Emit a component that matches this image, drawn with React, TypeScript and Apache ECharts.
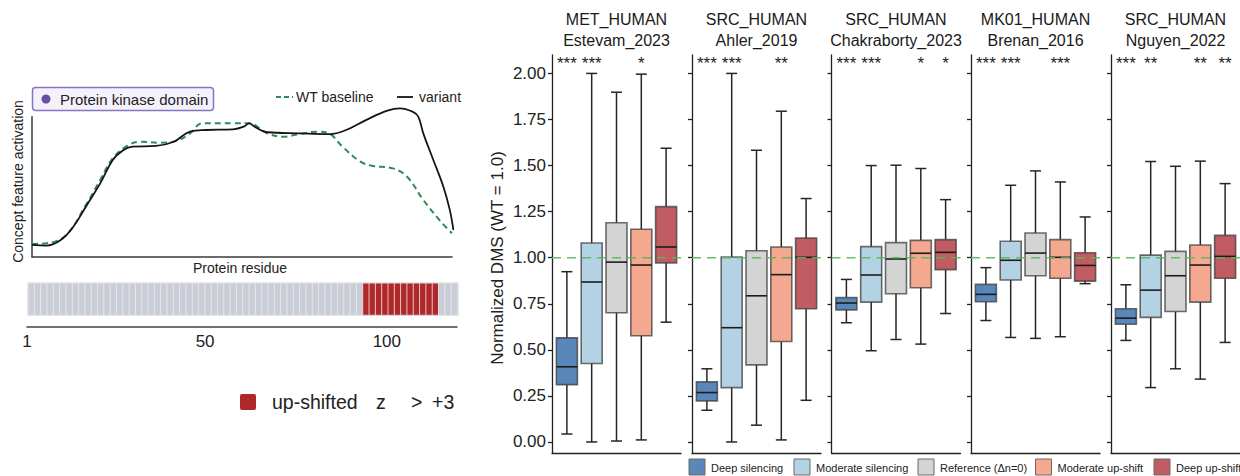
import { useEffect, useRef } from "react";
import * as echarts from "echarts";

const FONT = "'Liberation Sans', Arial, Helvetica, sans-serif";

// ---------- Left panel: concept feature activation along residues ----------
const wtBaseline: [number, number][] = [
  [1, 0.091], [5, 0.096], [10.5, 0.155], [16, 0.369], [20, 0.548], [23.5, 0.703],
  [27.5, 0.791], [31, 0.821], [36.5, 0.814], [41.5, 0.829], [45, 0.881], [48.5, 0.953],
  [57, 0.953], [61.5, 0.953], [66.5, 0.881], [71, 0.857], [75.5, 0.876], [80.5, 0.893],
  [84, 0.876], [87.5, 0.786], [92.5, 0.679], [96, 0.648], [101.5, 0.631], [105.5, 0.571],
  [110, 0.405], [114.5, 0.262], [118, 0.167],
];
const variantTrace: [number, number][] = [
  [1, 0.084], [5, 0.079], [9, 0.119], [12.5, 0.214], [16, 0.357], [20, 0.524],
  [23.5, 0.691], [26.5, 0.762], [29, 0.786], [35.5, 0.791], [40.5, 0.821], [45, 0.893],
  [49.5, 0.905], [57, 0.91], [60, 0.929], [61.5, 0.953], [63, 0.929], [66.5, 0.889],
  [75.5, 0.881], [84, 0.876], [88.5, 0.905], [94, 0.976], [100, 1.043], [103.5, 1.06],
  [107, 1.036], [108.6, 1.0], [110, 0.881], [112.8, 0.691], [115.6, 0.5], [117.4, 0.333],
  [118.4, 0.19],
];
const stripCellCount = 68;
const upShiftedCells = [53, 54, 55, 56, 57, 58, 59, 60, 61, 62, 63, 64];
const residueTicks = [1, 50, 100];

// ---------- Right panel: normalized DMS box plots ----------
const proteinNames = ["MET_HUMAN", "SRC_HUMAN", "SRC_HUMAN", "MK01_HUMAN", "SRC_HUMAN"];
const studyNames = ["Estevam_2023", "Ahler_2019", "Chakraborty_2023", "Brenan_2016", "Nguyen_2022"];
const classNames = ["Deep silencing", "Moderate silencing", "Reference (\u0394n=0)", "Moderate up-shift", "Deep up-shift"];
const dmsTicks = [0, 0.25, 0.5, 0.75, 1.0, 1.25, 1.5, 1.75, 2.0];
const wtLevel = 1.0;

// [lower whisker, Q1, median, Q3, upper whisker] per class
const metEstevam = [
  [0.043, 0.311, 0.408, 0.565, 0.924],
  [0.0, 0.426, 0.868, 1.08, 2.0],
  [0.005, 0.701, 0.976, 1.19, 1.898],
  [0.011, 0.576, 0.96, 1.154, 1.996],
  [0.65, 0.971, 1.058, 1.277, 1.594],
];
const srcAhler = [
  [0.172, 0.223, 0.268, 0.326, 0.397],
  [0.0, 0.295, 0.62, 1.004, 2.0],
  [0.091, 0.418, 0.793, 1.038, 1.583],
  [0.011, 0.545, 0.908, 1.058, 1.795],
  [0.226, 0.723, 1.002, 1.107, 1.321],
];
const srcChakraborty = [
  [0.647, 0.717, 0.754, 0.783, 0.882],
  [0.495, 0.759, 0.906, 1.06, 1.5],
  [0.556, 0.804, 0.993, 1.082, 1.502],
  [0.531, 0.837, 1.024, 1.094, 1.484],
  [0.697, 0.935, 1.029, 1.098, 1.315],
];
const mk01Brenan = [
  [0.659, 0.761, 0.801, 0.855, 0.946],
  [0.567, 0.879, 0.986, 1.089, 1.393],
  [0.562, 0.902, 1.025, 1.134, 1.471],
  [0.571, 0.888, 1.002, 1.098, 1.411],
  [0.859, 0.873, 0.958, 1.027, 1.221],
];
const srcNguyen = [
  [0.551, 0.639, 0.672, 0.723, 0.853],
  [0.295, 0.676, 0.824, 1.014, 1.522],
  [0.397, 0.708, 0.902, 1.034, 1.496],
  [0.341, 0.759, 0.96, 1.069, 1.524],
  [0.54, 0.888, 1.007, 1.121, 1.402],
];
const boxStats = [metEstevam, srcAhler, srcChakraborty, mk01Brenan, srcNguyen];
const sigMarks = [
  ["***", "***", "", "*", ""],
  ["***", "***", "", "**", ""],
  ["***", "***", "", "*", "*"],
  ["***", "***", "", "***", ""],
  ["***", "**", "", "**", "**"],
];

// ---------- styling / layout ----------
const classColors = ["#5a87b9", "#b3d3e5", "#d4d4d4", "#f3a88f", "#c15c62"];
const PANEL_LEFT = [552, 692, 831.5, 971, 1111];
const PANEL_W = 129;
const PANEL_TOP = 55;
const PANEL_H = 398;
const Y_MIN = -0.06;
const Y_MAX = 2.1;
const STAR_LEVEL = 2.055;
const LEGEND_X = [689, 794, 918, 1035.5, 1154];

function buildOption(): any {
  const grid: any[] = [
    { left: 32, top: 116.7, width: 420, height: 140 },
    { left: 28.3, top: 283.3, width: 429.4, height: 31.7, show: true, borderColor: "#d6d9df", borderWidth: 2, backgroundColor: "transparent" },
    { left: 27, top: 300, width: 430, height: 26.7 },
  ];
  const xAxis: any[] = [
    {
      gridIndex: 0, type: "value", min: 1, max: 118,
      axisLine: { show: true, onZero: false, lineStyle: { color: "#3a3a3a", width: 1.5 } },
      axisTick: { show: false }, axisLabel: { show: false }, splitLine: { show: false },
    },
    {
      gridIndex: 1, type: "category",
      data: Array.from({ length: stripCellCount }, (_, i) => String(i + 1)),
      show: false,
    },
    {
      gridIndex: 2, type: "value", min: 1, max: 119.3,
      axisLine: { show: true, onZero: false, lineStyle: { color: "#3d4350", width: 1.5 } },
      axisTick: { show: false },
      axisLabel: { show: true, customValues: residueTicks, fontSize: 17, fontFamily: FONT, color: "#222", margin: 6 },
      splitLine: { show: false },
    },
  ];
  const yAxis: any[] = [
    {
      gridIndex: 0, type: "value", min: 0, max: 1,
      axisLine: { show: true, onZero: false, lineStyle: { color: "#3a3a3a", width: 1.5 } },
      axisTick: { show: false }, axisLabel: { show: false }, splitLine: { show: false },
    },
    { gridIndex: 1, type: "category", data: ["strip"], show: false },
    { gridIndex: 2, type: "value", min: 0, max: 1, show: false },
  ];
  const series: any[] = [
    {
      type: "line", xAxisIndex: 0, yAxisIndex: 0, data: wtBaseline, smooth: 0.4, symbol: "none",
      clip: false, lineStyle: { color: "#2e8b57", width: 2, type: [6, 4] }, z: 3, silent: true,
    },
    {
      type: "line", xAxisIndex: 0, yAxisIndex: 0, data: variantTrace, smooth: 0.4, symbol: "none",
      clip: false, lineStyle: { color: "#151515", width: 1.8 }, z: 4, silent: true,
    },
    {
      type: "heatmap", xAxisIndex: 1, yAxisIndex: 1,
      data: Array.from({ length: stripCellCount }, (_, i) => [i, 0, upShiftedCells.includes(i) ? 1 : 0]),
      itemStyle: { borderColor: "rgba(236,238,242,0.75)", borderWidth: 1 },
      silent: true,
    },
  ];

  const graphic: any[] = [];

  for (let p = 0; p < boxStats.length; p++) {
    const gi = 3 + p;
    grid.push({ left: PANEL_LEFT[p], top: PANEL_TOP, width: PANEL_W, height: PANEL_H });
    xAxis.push({
      gridIndex: gi, type: "value", min: 0.4, max: 5.6,
      axisLine: { show: true, onZero: false, lineStyle: { color: "#222", width: 1.3 } },
      axisTick: { show: false }, axisLabel: { show: false }, splitLine: { show: false },
    });
    yAxis.push({
      gridIndex: gi, type: "value", min: Y_MIN, max: Y_MAX,
      axisLine: { show: true, onZero: false, lineStyle: { color: "#222", width: 1.3 } },
      axisTick: { show: true, length: 4, customValues: dmsTicks, lineStyle: { color: "#222", width: 1.3 } },
      axisLabel: {
        show: p === 0, customValues: dmsTicks, formatter: (v: number) => v.toFixed(2),
        fontSize: 17, fontFamily: FONT, color: "#222", margin: 6,
      },
      splitLine: { show: false },
    });
    const marks = sigMarks[p];
    series.push({
      type: "custom", xAxisIndex: gi, yAxisIndex: gi,
      data: boxStats[p].map((s, i) => [i + 1, ...s]),
      encode: { x: 0, y: [1, 2, 3, 4, 5] },
      silent: true, z: 3,
      renderItem: (params: any, api: any) => {
        const xv = api.value(0);
        const cx = api.coord([xv, 0])[0];
        const yOf = (d: number) => api.coord([xv, api.value(d)])[1];
        const yLow = yOf(1), yQ1 = yOf(2), yMed = yOf(3), yQ3 = yOf(4), yHigh = yOf(5);
        const color = classColors[params.dataIndex];
        const whisk = { stroke: "#2a2323", lineWidth: 1.5 };
        const hw = 10.5, cap = 5.5;
        const starY = api.coord([xv, STAR_LEVEL])[1];
        const children: any[] = [
          { type: "line", shape: { x1: cx, y1: yQ1, x2: cx, y2: yLow }, style: whisk },
          { type: "line", shape: { x1: cx, y1: yQ3, x2: cx, y2: yHigh }, style: whisk },
          { type: "line", shape: { x1: cx - cap, y1: yLow, x2: cx + cap, y2: yLow }, style: whisk },
          { type: "line", shape: { x1: cx - cap, y1: yHigh, x2: cx + cap, y2: yHigh }, style: whisk },
          {
            type: "rect", shape: { x: cx - hw, y: yQ3, width: hw * 2, height: yQ1 - yQ3 },
            style: { fill: color, stroke: "rgba(55,55,55,0.72)", lineWidth: 1.6 },
          },
          { type: "line", shape: { x1: cx - hw, y1: yMed, x2: cx + hw, y2: yMed }, style: { stroke: "#1c1c1c", lineWidth: 1.6 } },
        ];
        const m = marks[params.dataIndex];
        if (m) {
          children.push({
            type: "text", x: cx, y: starY,
            style: { text: m, fontSize: 17, fontFamily: FONT, fill: "#222", align: "center", verticalAlign: "middle" },
          });
        }
        return { type: "group", children };
      },
    });
    series.push({
      type: "line", xAxisIndex: gi, yAxisIndex: gi,
      data: [[0.4, wtLevel], [5.6, wtLevel]], symbol: "none", silent: true, z: 6,
      lineStyle: { color: "rgba(90,182,90,0.9)", width: 1.5, type: [9, 6] },
    });

    const cxTitle = PANEL_LEFT[p] + PANEL_W / 2;
    graphic.push({
      type: "text", x: cxTitle, y: 19.5,
      style: { text: proteinNames[p], fontSize: 16, fontFamily: FONT, fill: "#1a1a1a", align: "center", verticalAlign: "middle" },
    });
    graphic.push({
      type: "text", x: cxTitle, y: 40.5,
      style: { text: studyNames[p], fontSize: 16, fontFamily: FONT, fill: "#1a1a1a", align: "center", verticalAlign: "middle" },
    });
  }

  // right y axis name
  graphic.push({
    type: "text", x: 497, y: 258, rotation: Math.PI / 2,
    style: { text: "Normalized DMS (WT = 1.0)", fontSize: 17, fontFamily: FONT, fill: "#222", align: "center", verticalAlign: "middle" },
  });
  // right legend
  classNames.forEach((name, i) => {
    graphic.push({
      type: "rect", shape: { x: LEGEND_X[i], y: 459, width: 16, height: 16 },
      style: { fill: classColors[i], stroke: "#6a6a6a", lineWidth: 1 },
    });
    graphic.push({
      type: "text", x: LEGEND_X[i] + 22, y: 467.5,
      style: { text: name, fontSize: 11, fontFamily: FONT, fill: "#222", align: "left", verticalAlign: "middle" },
    });
  });

  // left panel legends & labels
  graphic.push(
    { type: "rect", shape: { x: 32.5, y: 87.5, width: 181, height: 23, r: 3 }, style: { fill: "#f4f1fb", stroke: "#8874c4", lineWidth: 1.5 } },
    { type: "circle", shape: { cx: 46, cy: 99, r: 4.5 }, style: { fill: "#6a4ea8" } },
    { type: "text", x: 60, y: 99, style: { text: "Protein kinase domain", fontSize: 15, fontFamily: FONT, fill: "#222", align: "left", verticalAlign: "middle" } },
    { type: "line", shape: { x1: 276, y1: 97, x2: 293, y2: 97 }, style: { stroke: "#2e8b57", lineWidth: 2, lineDash: [5, 3] } },
    { type: "text", x: 296, y: 97, style: { text: "WT baseline", fontSize: 14, fontFamily: FONT, fill: "#222", align: "left", verticalAlign: "middle" } },
    { type: "line", shape: { x1: 397, y1: 97, x2: 413, y2: 97 }, style: { stroke: "#151515", lineWidth: 1.8 } },
    { type: "text", x: 419, y: 97, style: { text: "variant", fontSize: 14, fontFamily: FONT, fill: "#222", align: "left", verticalAlign: "middle" } },
    { type: "text", x: 18, y: 181.5, rotation: Math.PI / 2, style: { text: "Concept feature activation", fontSize: 14, fontFamily: FONT, fill: "#222", align: "center", verticalAlign: "middle" } },
    { type: "text", x: 240, y: 268, style: { text: "Protein residue", fontSize: 14, fontFamily: FONT, fill: "#222", align: "center", verticalAlign: "middle" } },
    { type: "rect", shape: { x: 240, y: 394, width: 16, height: 16, r: 2 }, style: { fill: "#b0282a" } },
    { type: "text", x: 272, y: 401.5, style: { text: "up-shifted", fontSize: 19.5, fontFamily: FONT, fill: "#222", align: "left", verticalAlign: "middle" } },
    { type: "text", x: 376, y: 401.5, style: { text: "z", fontSize: 19.5, fontFamily: FONT, fill: "#222", align: "left", verticalAlign: "middle" } },
    { type: "text", x: 411, y: 401.5, style: { text: ">", fontSize: 19.5, fontFamily: FONT, fill: "#222", align: "left", verticalAlign: "middle" } },
    { type: "text", x: 432, y: 401.5, style: { text: "+3", fontSize: 19.5, fontFamily: FONT, fill: "#222", align: "left", verticalAlign: "middle" } },
  );

  return {
    animation: false,
    backgroundColor: "#ffffff",
    textStyle: { fontFamily: FONT },
    grid,
    xAxis,
    yAxis,
    visualMap: {
      type: "piecewise", show: false, seriesIndex: 2, dimension: 2,
      pieces: [
        { value: 0, color: "#c9cdd5" },
        { value: 1, color: "#b1282a" },
      ],
    },
    series,
    graphic,
  };
}

export default function App() {
  const ref = useRef<HTMLDivElement>(null);
  useEffect(() => {
    if (!ref.current) return;
    const chart = echarts.init(ref.current, undefined, { renderer: "svg" });
    chart.setOption(buildOption());
    return () => chart.dispose();
  }, []);
  return (
    <div
      ref={ref}
      style={{ position: "absolute", left: 0, top: 0, width: 1240, height: 476, background: "#fff" }}
    />
  );
}
